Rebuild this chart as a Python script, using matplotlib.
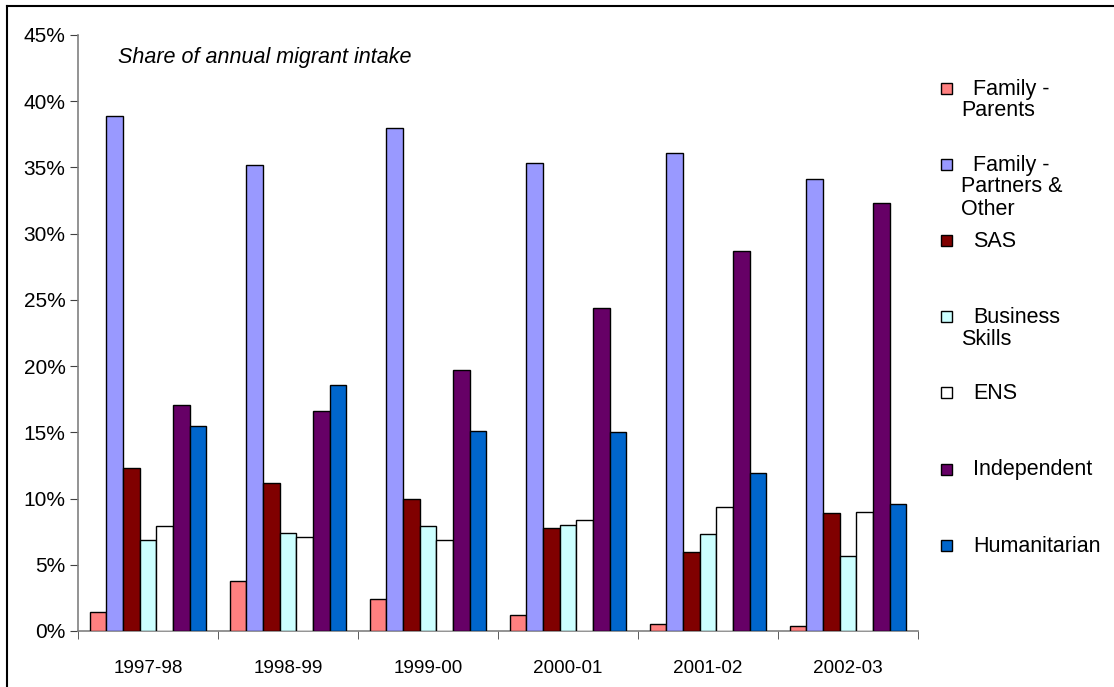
import matplotlib
matplotlib.use("Agg")
import matplotlib.pyplot as plt
import numpy as np
from matplotlib.lines import Line2D
from matplotlib.patches import Rectangle

plt.rcParams['font.family'] = ['Liberation Sans', 'DejaVu Sans']

years = ["1997-98", "1998-99", "1999-00", "2000-01", "2001-02", "2002-03"]
series_names = ["Family - Parents", "Family - Partners & Other", "SAS",
                "Business Skills", "ENS", "Independent", "Humanitarian"]
legend_lines = [["Family -", "Parents"], ["Family -", "Partners &", "Other"], ["SAS"],
                ["Business", "Skills"], ["ENS"], ["Independent"], ["Humanitarian"]]
family_parents = [1.4, 3.8, 2.4, 1.2, 0.5, 0.4]
family_partners = [38.9, 35.2, 38.0, 35.3, 36.1, 34.1]
sas = [12.3, 11.2, 10.0, 7.8, 6.0, 8.9]
business_skills = [6.9, 7.4, 7.9, 8.0, 7.3, 5.7]
ens = [7.9, 7.1, 6.9, 8.4, 9.4, 9.0]
independent = [17.1, 16.6, 19.7, 24.4, 28.7, 32.3]
humanitarian = [15.5, 18.6, 15.1, 15.0, 11.9, 9.6]
yticks = [0, 5, 10, 15, 20, 25, 30, 35, 40, 45]

data = [family_parents, family_partners, sas, business_skills, ens, independent, humanitarian]
colors = ["#FF8080", "#9999FF", "#800000", "#CCFFFF", "#FFFFFF", "#660066", "#0066CC"]

W, H = 1114, 687
fig = plt.figure(figsize=(W / 100, H / 100), dpi=100)
ax = fig.add_axes([78 / W, 1 - 631 / H, (918 - 78) / W, (631 - 35) / H])

n = len(data)
bw = 0.119
x = np.arange(len(years))
for i, (vals, c) in enumerate(zip(data, colors)):
    ax.bar(x + (i - (n - 1) / 2) * bw, vals, width=bw, color=c,
           edgecolor="black", linewidth=1.0, zorder=3)

ax.set_xlim(-0.5, len(years) - 0.5)
ax.set_ylim(0, 45)
ax.set_yticks(yticks)
ax.set_yticklabels([f"{t}%" for t in yticks], fontsize=15)
ax.set_xticks(x)
ax.set_xticklabels(years, fontsize=13.6)
ax.set_xticks(np.arange(len(years) + 1) - 0.5, minor=True)
ax.tick_params(axis='x', which='major', length=0, pad=21)
ax.tick_params(axis='x', which='minor', length=6, color='#404040', direction='out')
ax.tick_params(axis='y', length=6, color='#404040', direction='out', pad=3)
for s in ['top', 'right']:
    ax.spines[s].set_visible(False)
for s in ['left', 'bottom']:
    ax.spines[s].set_color('#808080')
    ax.spines[s].set_linewidth(1.2)

fig.text(118 / W, 1 - 58 / H, "Share of annual migrant intake", fontsize=15.5,
         style='italic', va='center', ha='left')

# legend
y0 = 88
step = 76.2
for i, (lines, c) in enumerate(zip(legend_lines, colors)):
    yc = y0 + i * step
    fig.patches.append(Rectangle((941 / W, 1 - (yc + 5.5) / H), 11 / W, 11 / H,
                                 transform=fig.transFigure, facecolor=c,
                                 edgecolor='black', linewidth=1.0))
    for j, t in enumerate(lines):
        xx = 973 if j == 0 else 961
        yy = yc + (1 if j == 0 else 0) + j * 22.5
        fig.text(xx / W, 1 - yy / H, t, fontsize=15.5, va='center', ha='left')

# outer frame (top and left)
fig.add_artist(Line2D([7 / W, 1], [1 - 6 / H, 1 - 6 / H], color='black', linewidth=1.5,
                      transform=fig.transFigure))
fig.add_artist(Line2D([7 / W, 7 / W], [0, 1 - 6 / H], color='black', linewidth=1.5,
                      transform=fig.transFigure))

fig.savefig("out.png", dpi=100)
